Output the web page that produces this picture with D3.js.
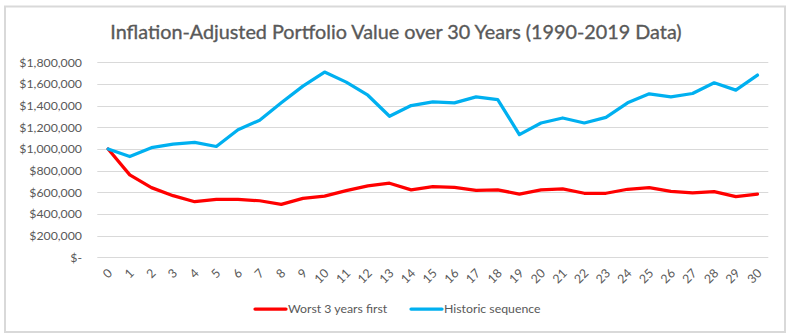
<!DOCTYPE html>
<html><head><meta charset="utf-8">
<script src="https://cdn.jsdelivr.net/npm/d3@7"></script>
<style>
html,body{margin:0;padding:0;background:#fff;}
svg{display:block;font-family:Lato,"Open Sans",sans-serif;}
</style></head>
<body><svg id="c" width="791" height="335"></svg>
<script>
const title = "Inflation-Adjusted Portfolio Value over 30 Years (1990-2019 Data)";
const years = d3.range(0, 31);
const worstFirst = [1000000, 761000, 643000, 569000, 513000, 535000, 535000, 522000, 489000, 544000, 565000, 615000, 659000, 684000, 622000, 652000, 646000, 618000, 622000, 584000, 622000, 631000, 591000, 591000, 628000, 643000, 609000, 595000, 606000, 560000, 584000];
const historic = [1000000, 930000, 1012000, 1045000, 1060000, 1023000, 1178000, 1265000, 1426000, 1580000, 1710000, 1617000, 1496000, 1302000, 1401000, 1435000, 1426000, 1481000, 1456000, 1132000, 1240000, 1286000, 1240000, 1292000, 1426000, 1509000, 1481000, 1512000, 1611000, 1543000, 1682000];
const yTicks = [0, 200000, 400000, 600000, 800000, 1000000, 1200000, 1400000, 1600000, 1800000];
const seriesNames = ["Worst 3 years first", "Historic sequence"];
const seriesColors = ["#ff0000", "#00b0f0"];

const svg = d3.select("#c");
const txt = "#595959";

svg.append("rect").attr("x", 5).attr("y", 6.5).attr("width", 780).attr("height", 325.5)
  .attr("fill", "#fff").attr("stroke", "#d9d9d9").attr("stroke-width", 2);

svg.append("text").attr("x", 396).attr("y", 38.5).attr("text-anchor", "middle")
  .attr("font-size", 19.8).attr("fill", txt).attr("stroke", txt).attr("stroke-width", 0.35)
  .text(title);

const x = d3.scalePoint().domain(years).range([97.3, 768.3]).padding(0.5);
const y = d3.scaleLinear().domain([0, 1800000]).range([257.3, 62.3]);

const fmt = v => v === 0 ? "$-" : "$" + d3.format(",")(v);

// gridlines
svg.append("g").selectAll("line").data(yTicks).join("line")
  .attr("x1", 97.3).attr("x2", 768.3)
  .attr("y1", d => Math.round(y(d)) + 0.5).attr("y2", d => Math.round(y(d)) + 0.5)
  .attr("stroke", "#d9d9d9").attr("stroke-width", 1);

// y axis labels
const yAxis = d3.axisLeft(y).tickValues(yTicks).tickFormat(fmt).tickSize(0).tickPadding(0);
const gy = svg.append("g").attr("transform", "translate(82,0)").call(yAxis);
gy.select(".domain").remove();
gy.selectAll("text").attr("font-size", 12.3).attr("fill", txt).attr("font-family", "Lato,'Open Sans',sans-serif");

// x axis labels rotated
svg.append("g").selectAll("text").data(years).join("text")
  .attr("transform", d => `translate(${x(d) + 2},271) rotate(-45)`)
  .attr("text-anchor", "end").attr("dy", "0.35em")
  .attr("font-size", 12.3).attr("fill", txt).text(d => d);

const line = d3.line().x((d, i) => x(years[i])).y(d => y(d));
[worstFirst, historic].forEach((s, k) => {
  svg.append("path").datum(s).attr("d", line).attr("fill", "none")
    .attr("stroke", seriesColors[k]).attr("stroke-width", 3.25)
    .attr("stroke-linejoin", "round").attr("stroke-linecap", "round");
});

// legend
const legX = [255, 411];
seriesNames.forEach((n, k) => {
  const g = svg.append("g").attr("transform", `translate(${legX[k]},309)`);
  g.append("line").attr("x1", 0).attr("x2", 31).attr("y1", 0).attr("y2", 0)
    .attr("stroke", seriesColors[k]).attr("stroke-width", 3.25).attr("stroke-linecap", "round");
  g.append("text").attr("x", 33).attr("dy", "0.35em").attr("font-size", 12.3).attr("fill", txt).text(n);
});
</script></body></html>
